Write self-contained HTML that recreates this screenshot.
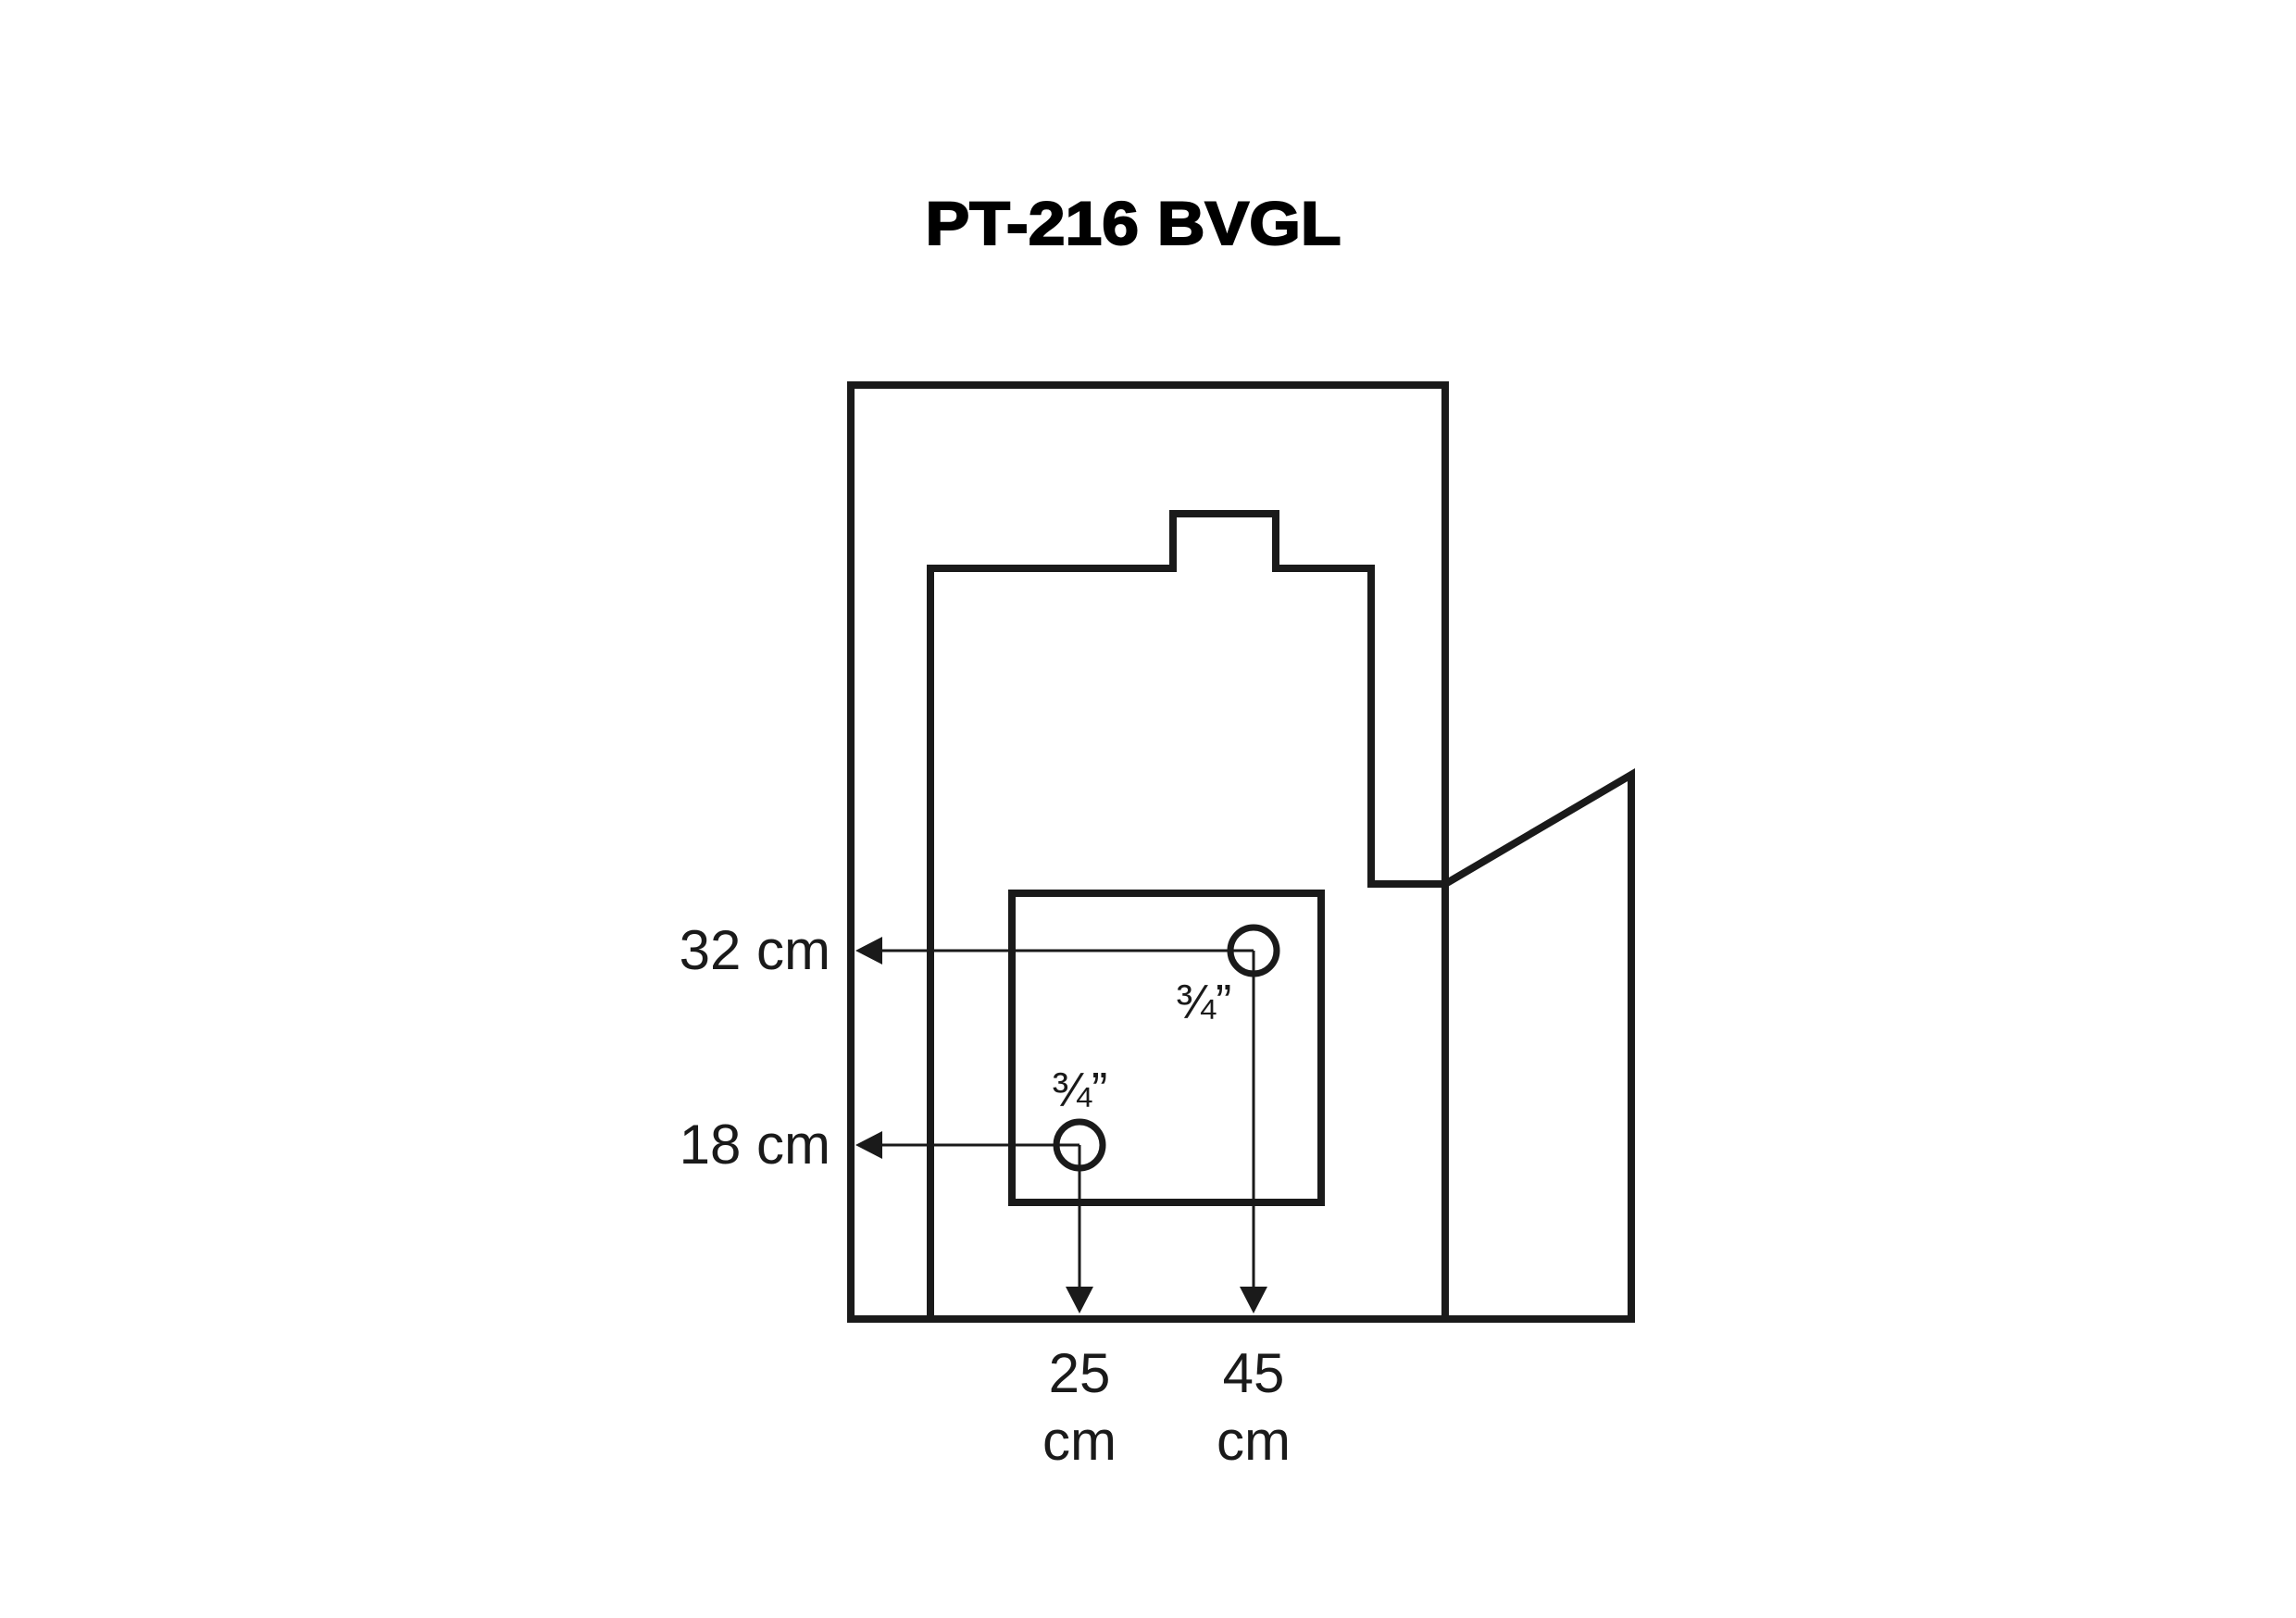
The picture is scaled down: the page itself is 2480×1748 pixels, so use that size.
<!DOCTYPE html>
<html><head><meta charset="utf-8"><style>html,body{margin:0;padding:0;background:#fff}svg{display:block}</style></head>
<body>
<svg width="2480" height="1748" viewBox="0 0 2480 1748" xmlns="http://www.w3.org/2000/svg">
<rect width="2480" height="1748" fill="#fff"/>
<text x="1224" y="264" text-anchor="middle" font-family="Liberation Sans, sans-serif" font-weight="bold" font-size="66" textLength="449" lengthAdjust="spacingAndGlyphs" fill="#000" stroke="#000" stroke-width="2">PT-216 BVGL</text>
<g fill="none" stroke="#1a1a1a" stroke-width="8" stroke-linejoin="miter">
<rect x="919" y="416" width="642" height="1009"/>
<polyline points="1005,1425 1005,614 1267,614 1267,555 1378,555 1378,614 1481,614 1481,955 1561,955"/>
<polyline points="1561,955 1762,837 1762,1425 1561,1425"/>
<rect x="1093" y="965" width="334" height="334"/>
<circle cx="1354" cy="1027" r="25" stroke-width="7"/>
<circle cx="1166" cy="1237" r="25" stroke-width="7"/>
</g>
<g stroke="#1a1a1a" stroke-width="3" fill="none">
<line x1="950" y1="1027" x2="1354" y2="1027"/>
<line x1="950" y1="1237" x2="1166" y2="1237"/>
<line x1="1354" y1="1027" x2="1354" y2="1392"/>
<line x1="1166" y1="1237" x2="1166" y2="1392"/>
</g>
<g fill="#1a1a1a">
<polygon points="924,1027 953,1012 953,1042"/>
<polygon points="924,1237 953,1222 953,1252"/>
<polygon points="1354,1419 1339,1390 1369,1390"/>
<polygon points="1166,1419 1151,1390 1181,1390"/>
</g>
<g font-family="Liberation Sans, sans-serif" fill="#1a1a1a" font-size="60">
<text x="897" y="1047" text-anchor="end">32 cm</text>
<text x="897" y="1257" text-anchor="end">18 cm</text>
<text x="1166" y="1504" text-anchor="middle">25</text>
<text x="1166" y="1577" text-anchor="middle">cm</text>
<text x="1354" y="1504" text-anchor="middle">45</text>
<text x="1354" y="1577" text-anchor="middle">cm</text>
<text x="1300" y="1100" text-anchor="middle" font-size="52">¾”</text>
<text x="1166" y="1195" text-anchor="middle" font-size="52">¾”</text>
</g>
</svg>
</body></html>
